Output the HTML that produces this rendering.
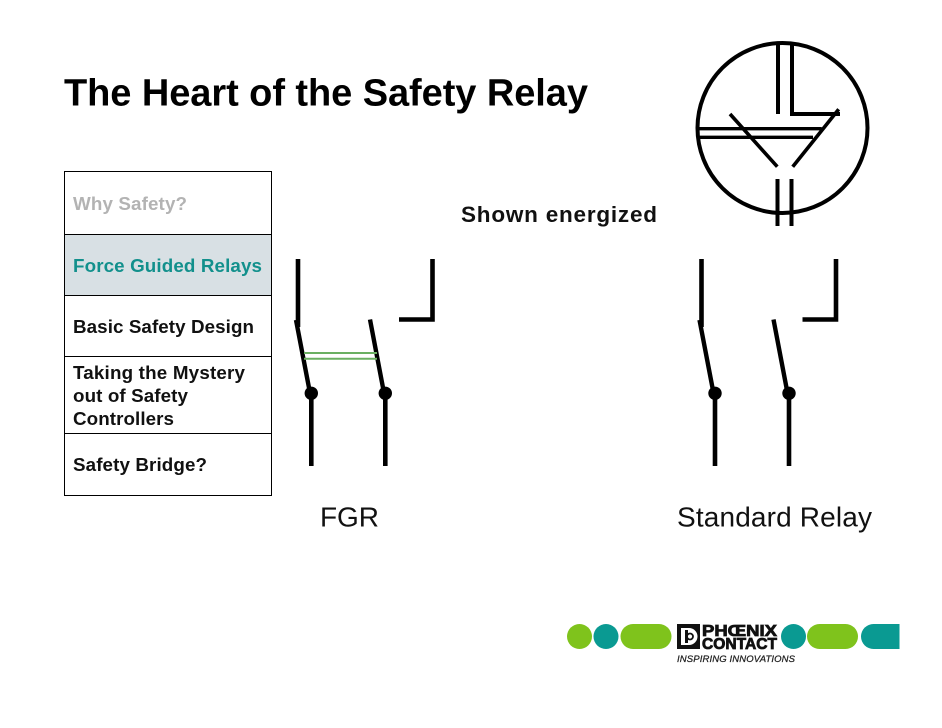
<!DOCTYPE html>
<html><head><meta charset="utf-8"><style>
html,body{margin:0;padding:0;background:#fff;width:942px;height:728px;overflow:hidden}
svg{display:block}
text{font-family:"Liberation Sans",sans-serif}
</style></head><body>
<svg width="942" height="728" viewBox="0 0 942 728" xmlns="http://www.w3.org/2000/svg">
<text x="64" y="105.5" font-size="38" font-weight="bold" fill="#000" textLength="524" lengthAdjust="spacing">The Heart of the Safety Relay</text>

<rect x="65" y="235" width="206" height="60" fill="#d8e0e4"/>
<g stroke="#000" stroke-width="1" fill="none">
<rect x="64.5" y="171.5" width="207" height="324"/>
<path d="M65 234.5H271M65 295.5H271M65 356.5H271M65 433.5H271"/>
</g>
<g font-size="18.8" font-weight="bold">
<text x="73" y="210" fill="#b3b3b3" textLength="114" lengthAdjust="spacing">Why Safety?</text>
<text x="73" y="272" fill="#12908c" textLength="189" lengthAdjust="spacing">Force Guided Relays</text>
<text x="73" y="333" fill="#111" textLength="181" lengthAdjust="spacing">Basic Safety Design</text>
<text x="73" y="379" fill="#111" textLength="172" lengthAdjust="spacing">Taking the Mystery</text>
<text x="73" y="402" fill="#111" textLength="115" lengthAdjust="spacing">out of Safety</text>
<text x="73" y="425" fill="#111" textLength="101" lengthAdjust="spacing">Controllers</text>
<text x="73" y="471" fill="#111" textLength="134" lengthAdjust="spacing">Safety Bridge?</text>
</g>
<text x="461" y="222" font-size="22.5" font-weight="bold" fill="#111" textLength="196" lengthAdjust="spacing">Shown energized</text>
<text x="320" y="526.5" font-size="28" fill="#111" textLength="59" lengthAdjust="spacing">FGR</text>
<text x="677" y="526.5" font-size="28" fill="#111" textLength="195" lengthAdjust="spacing">Standard Relay</text>

<!-- Circle symbol -->
<g stroke="#000" fill="none">
<circle cx="782.5" cy="128" r="85" stroke-width="4"/>
<path d="M778 43V114M777.5 179V226M791.5 179V226" stroke-width="4"/>
<path d="M792 43V114H840" stroke-width="4"/>
<path d="M838.7 109.3L792.7 166.7M730 114L777.3 166.7" stroke-width="3.6"/>
<path d="M697 128.7H821.7M697 137.3H813" stroke-width="3.4"/>
</g>

<!-- FGR -->
<g stroke="#000" fill="none">
<path d="M298 259V327" stroke-width="4.6"/>
<path d="M296 320L310 393M370 319.5L384 393" stroke-width="4.4"/>
<path d="M311.3 393V466M385.3 393V466" stroke-width="4.6"/>
<path d="M432.5 259V319.5H399" stroke-width="4.6"/>
</g>
<circle cx="311.3" cy="393.3" r="6.7"/><circle cx="385.3" cy="393.3" r="6.7"/>
<path d="M304 353H377M304 358.7H377" stroke="#6bb062" stroke-width="2" fill="none"/>

<!-- Standard -->
<g stroke="#000" fill="none">
<path d="M701.5 259V327" stroke-width="4.6"/>
<path d="M699.5 320L713.5 393M773.5 319.5L787.5 393" stroke-width="4.4"/>
<path d="M715 393V466M789 393V466" stroke-width="4.6"/>
<path d="M836 259V319.5H802.5" stroke-width="4.6"/>
</g>
<circle cx="715" cy="393.3" r="6.7"/><circle cx="789" cy="393.3" r="6.7"/>

<!-- Logo -->
<circle cx="579.5" cy="636.5" r="12.5" fill="#7fc31c"/>
<circle cx="606" cy="636.5" r="12.5" fill="#0a9a92"/>
<rect x="620.5" y="624" width="51" height="25" rx="12.5" fill="#7fc31c"/>
<circle cx="793.5" cy="636.5" r="12.5" fill="#0a9a92"/>
<rect x="807" y="624" width="51" height="25" rx="12.5" fill="#7fc31c"/>
<path d="M899.5 624V649H873.5A12.5 12.5 0 0 1 873.5 624Z" fill="#0a9a92"/>
<rect x="677" y="624" width="23" height="25" fill="#111"/>
<path d="M681 628H689A8.5 8.5 0 0 1 689 645H681Z" fill="#fff"/>
<rect x="685" y="630" width="3" height="13" fill="#111"/>
<circle cx="690" cy="636.5" r="3" fill="none" stroke="#111" stroke-width="1.8"/>
<text x="702" y="636" font-size="16" font-weight="bold" fill="#111" stroke="#111" stroke-width=".8" textLength="75" lengthAdjust="spacingAndGlyphs">PHŒNIX</text>
<text x="702" y="649" font-size="16" font-weight="bold" fill="#111" stroke="#111" stroke-width=".8" textLength="75" lengthAdjust="spacingAndGlyphs">CONTACT</text>
<text x="677" y="662" font-size="9.5" font-style="italic" fill="#222" stroke="#222" stroke-width=".25" textLength="118" lengthAdjust="spacing">INSPIRING INNOVATIONS</text>
</svg>
</body></html>
